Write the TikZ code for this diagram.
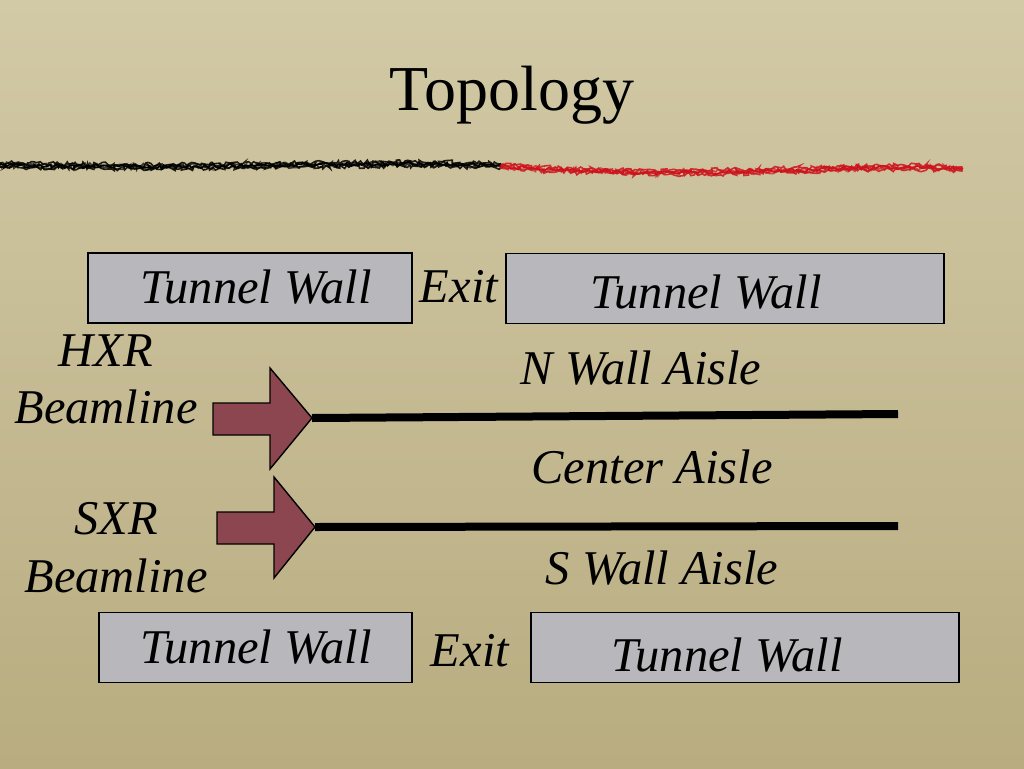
\documentclass[tikz,border=0pt]{standalone}
\usepackage{fontspec}
\setmainfont{Liberation Serif}
\usetikzlibrary{calc,decorations.pathmorphing}
\definecolor{papertop}{RGB}{210,201,166}
\definecolor{paperbot}{RGB}{184,172,128}
\definecolor{wallgray}{RGB}{184,184,188}
\definecolor{beamred}{RGB}{139,70,80}
\definecolor{inkred}{RGB}{205,20,30}
\tikzset{wall/.style={draw,line width=1.8pt,fill=wallgray,minimum width=#1,minimum height=70pt,inner sep=0pt},
	lbl/.style={font=\fontsize{48.5}{52}\selectfont\itshape},
	beam/.style={draw,line width=1.4pt,fill=beamred,line join=miter},
	scribble/.style={line width=1.6pt,decorate,decoration={random steps,segment length=2.5pt,amplitude=2.2pt}}}
\begin{document}
\begin{tikzpicture}[x=1pt,y=-1pt]
	\pgfmathsetseed{7}
	\shade[top color=papertop,bottom color=paperbot] (0,0) rectangle (1024,768);
	\useasboundingbox (0,0) rectangle (1024,768);
	\node[font=\fontsize{64}{68}\selectfont] (title) at (512,95) {Topology};
	\coordinate (r0) at (0,165); \coordinate (r1) at (500,166); \coordinate (r2) at (962,169);
	\foreach \d/\o in {-2/0.85,0/1,2/0.85,-1/0.7,1/0.7} {
		\draw[scribble,black,draw opacity=\o] ($(r0)+(0,\d)$) .. controls (250,170+\d) and (380,160+\d) .. ($(r1)+(0,\d)$);
		\draw[scribble,inkred,draw opacity=\o] ($(r1)+(0,\d)$) .. controls (700,182+\d) and (850,162+\d) .. ($(r2)+(0,\d)$);
	}
	\node[wall=324pt] (w1) at (250,288) {};
	\node[wall=438pt] (w2) at (725,288.5) {};
	\node[wall=313pt] (w3) at (255.5,647.5) {};
	\node[wall=428pt] (w4) at (745,647.5) {};
	\node[lbl] (t1) at (256,287) {Tunnel Wall};
	\node[lbl] (t2) at (706,292) {Tunnel Wall};
	\node[lbl] (t3) at (256,647) {Tunnel Wall};
	\node[lbl] (t4) at (727,655) {Tunnel Wall};
	\node[lbl] (e1) at (459,287) {Exit};
	\node[lbl] (e2) at (470,651) {Exit};
	\node[lbl] (hxr) at (106,351) {HXR};
	\node[lbl] (hbl) at (106,407) {Beamline};
	\node[lbl] (sxr) at (116,519) {SXR};
	\node[lbl] (sbl) at (116,576) {Beamline};
	\node[lbl] (north) at (641,368) {N Wall Aisle};
	\node[lbl] (center) at (652,467) {Center Aisle};
	\node[lbl] (south) at (662,568) {S Wall Aisle};
	\coordinate (h0) at (312,418); \coordinate (h1) at (898,414);
	\coordinate (s0) at (315,527); \coordinate (s1) at (898,526);
	\draw[line width=8pt] (h0) -- (h1);
	\draw[line width=8pt] (s0) -- (s1);
	\draw[beam] (213,403) -- (270,403) -- (270,368) -- (h0) -- (270,469) -- (270,435) -- (213,435) -- cycle;
	\draw[beam] (217,512) -- (274,512) -- (274,477) -- (s0) -- (274,578) -- (274,544) -- (217,544) -- cycle;
\end{tikzpicture}
\end{document}
